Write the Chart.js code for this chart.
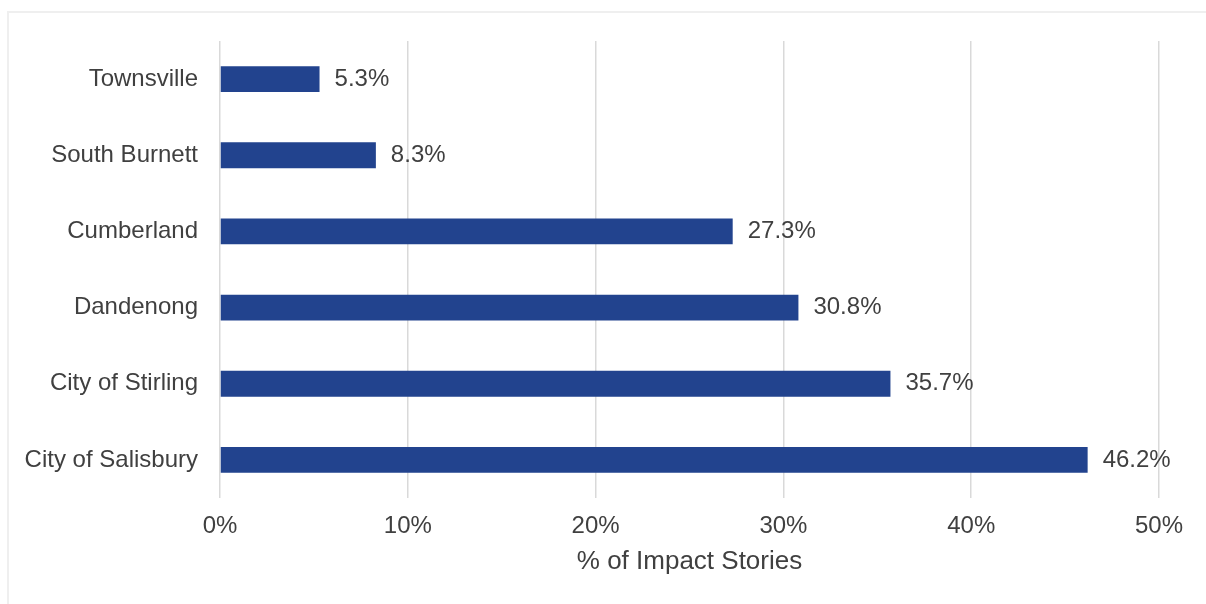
<!DOCTYPE html>
<html>
<head>
<meta charset="utf-8">
<script src="https://cdn.jsdelivr.net/npm/chart.js@4/dist/chart.umd.min.js"></script>
<style>
  body { margin: 0; background: #fff; overflow: hidden; }
  #wrap { position: relative; width: 1206px; height: 604px; }
  #frame { position: absolute; left: 7px; top: 11px; width: 1300px; height: 700px; border: 2px solid #efefef; }
  canvas { position: absolute; left: 0; top: 0; }
</style>
</head>
<body>
<div id="wrap">
  <div id="frame"></div>
  <canvas id="bar-chart" width="1206" height="604"></canvas>
</div>
<script>
// data
const areas = ["Townsville", "South Burnett", "Cumberland", "Dandenong", "City of Stirling", "City of Salisbury"];
const shares = [5.3, 8.3, 27.3, 30.8, 35.7, 46.2];
const xTicks = [0, 10, 20, 30, 40, 50];

const textColor = "#404040";
const fontFamily = "'Liberation Sans', Arial, sans-serif";

// labels at the end of each bar
const barLabels = {
  id: "barLabels",
  afterDatasetsDraw(chart) {
    const ctx = chart.ctx;
    const meta = chart.getDatasetMeta(0);
    ctx.save();
    ctx.font = "24px " + fontFamily;
    ctx.fillStyle = textColor;
    ctx.textAlign = "left";
    ctx.textBaseline = "middle";
    meta.data.forEach((bar, i) => {
      ctx.fillText(shares[i].toFixed(1) + "%", bar.x + 15, bar.y);
    });
    ctx.restore();
  }
};

const contenedorBarChart = document.querySelector("#bar-chart").getContext("2d");

const barChart = new Chart(contenedorBarChart, {
  type: "bar",
  data: {
    labels: areas,
    datasets: [{
      label: "% of Impact Stories",
      data: shares,
      backgroundColor: "#22438e",
      borderWidth: 0,
      barPercentage: 0.85,
      categoryPercentage: 0.4,
    }],
  },
  options: {
    indexAxis: "y",
    responsive: false,
    animation: false,
    devicePixelRatio: 1,
    layout: { padding: { left: 0, top: 41, right: 47, bottom: 27 } },
    plugins: {
      legend: { display: false },
      tooltip: { enabled: false },
    },
    scales: {
      x: {
        min: 0,
        max: 50,
        afterBuildTicks(scale) {
          scale.ticks = xTicks.map(v => ({ value: v }));
        },
        grid: { color: "#d9d9d9", lineWidth: 1.5, drawTicks: false },
        border: { display: false },
        ticks: {
          padding: 14,
          color: textColor,
          font: { size: 24, family: fontFamily },
          callback: v => v + "%",
        },
        title: {
          display: true,
          text: "% of Impact Stories",
          color: textColor,
          font: { size: 26, family: fontFamily },
          padding: { top: -9, bottom: 0 },
        },
      },
      y: {
        afterFit(scale) { scale.width = 220; },
        grid: { display: false, drawTicks: false },
        border: { display: false },
        ticks: {
          padding: 22,
          color: textColor,
          font: { size: 24, family: fontFamily },
        },
      },
    },
  },
  plugins: [barLabels],
});
</script>
</body>
</html>
